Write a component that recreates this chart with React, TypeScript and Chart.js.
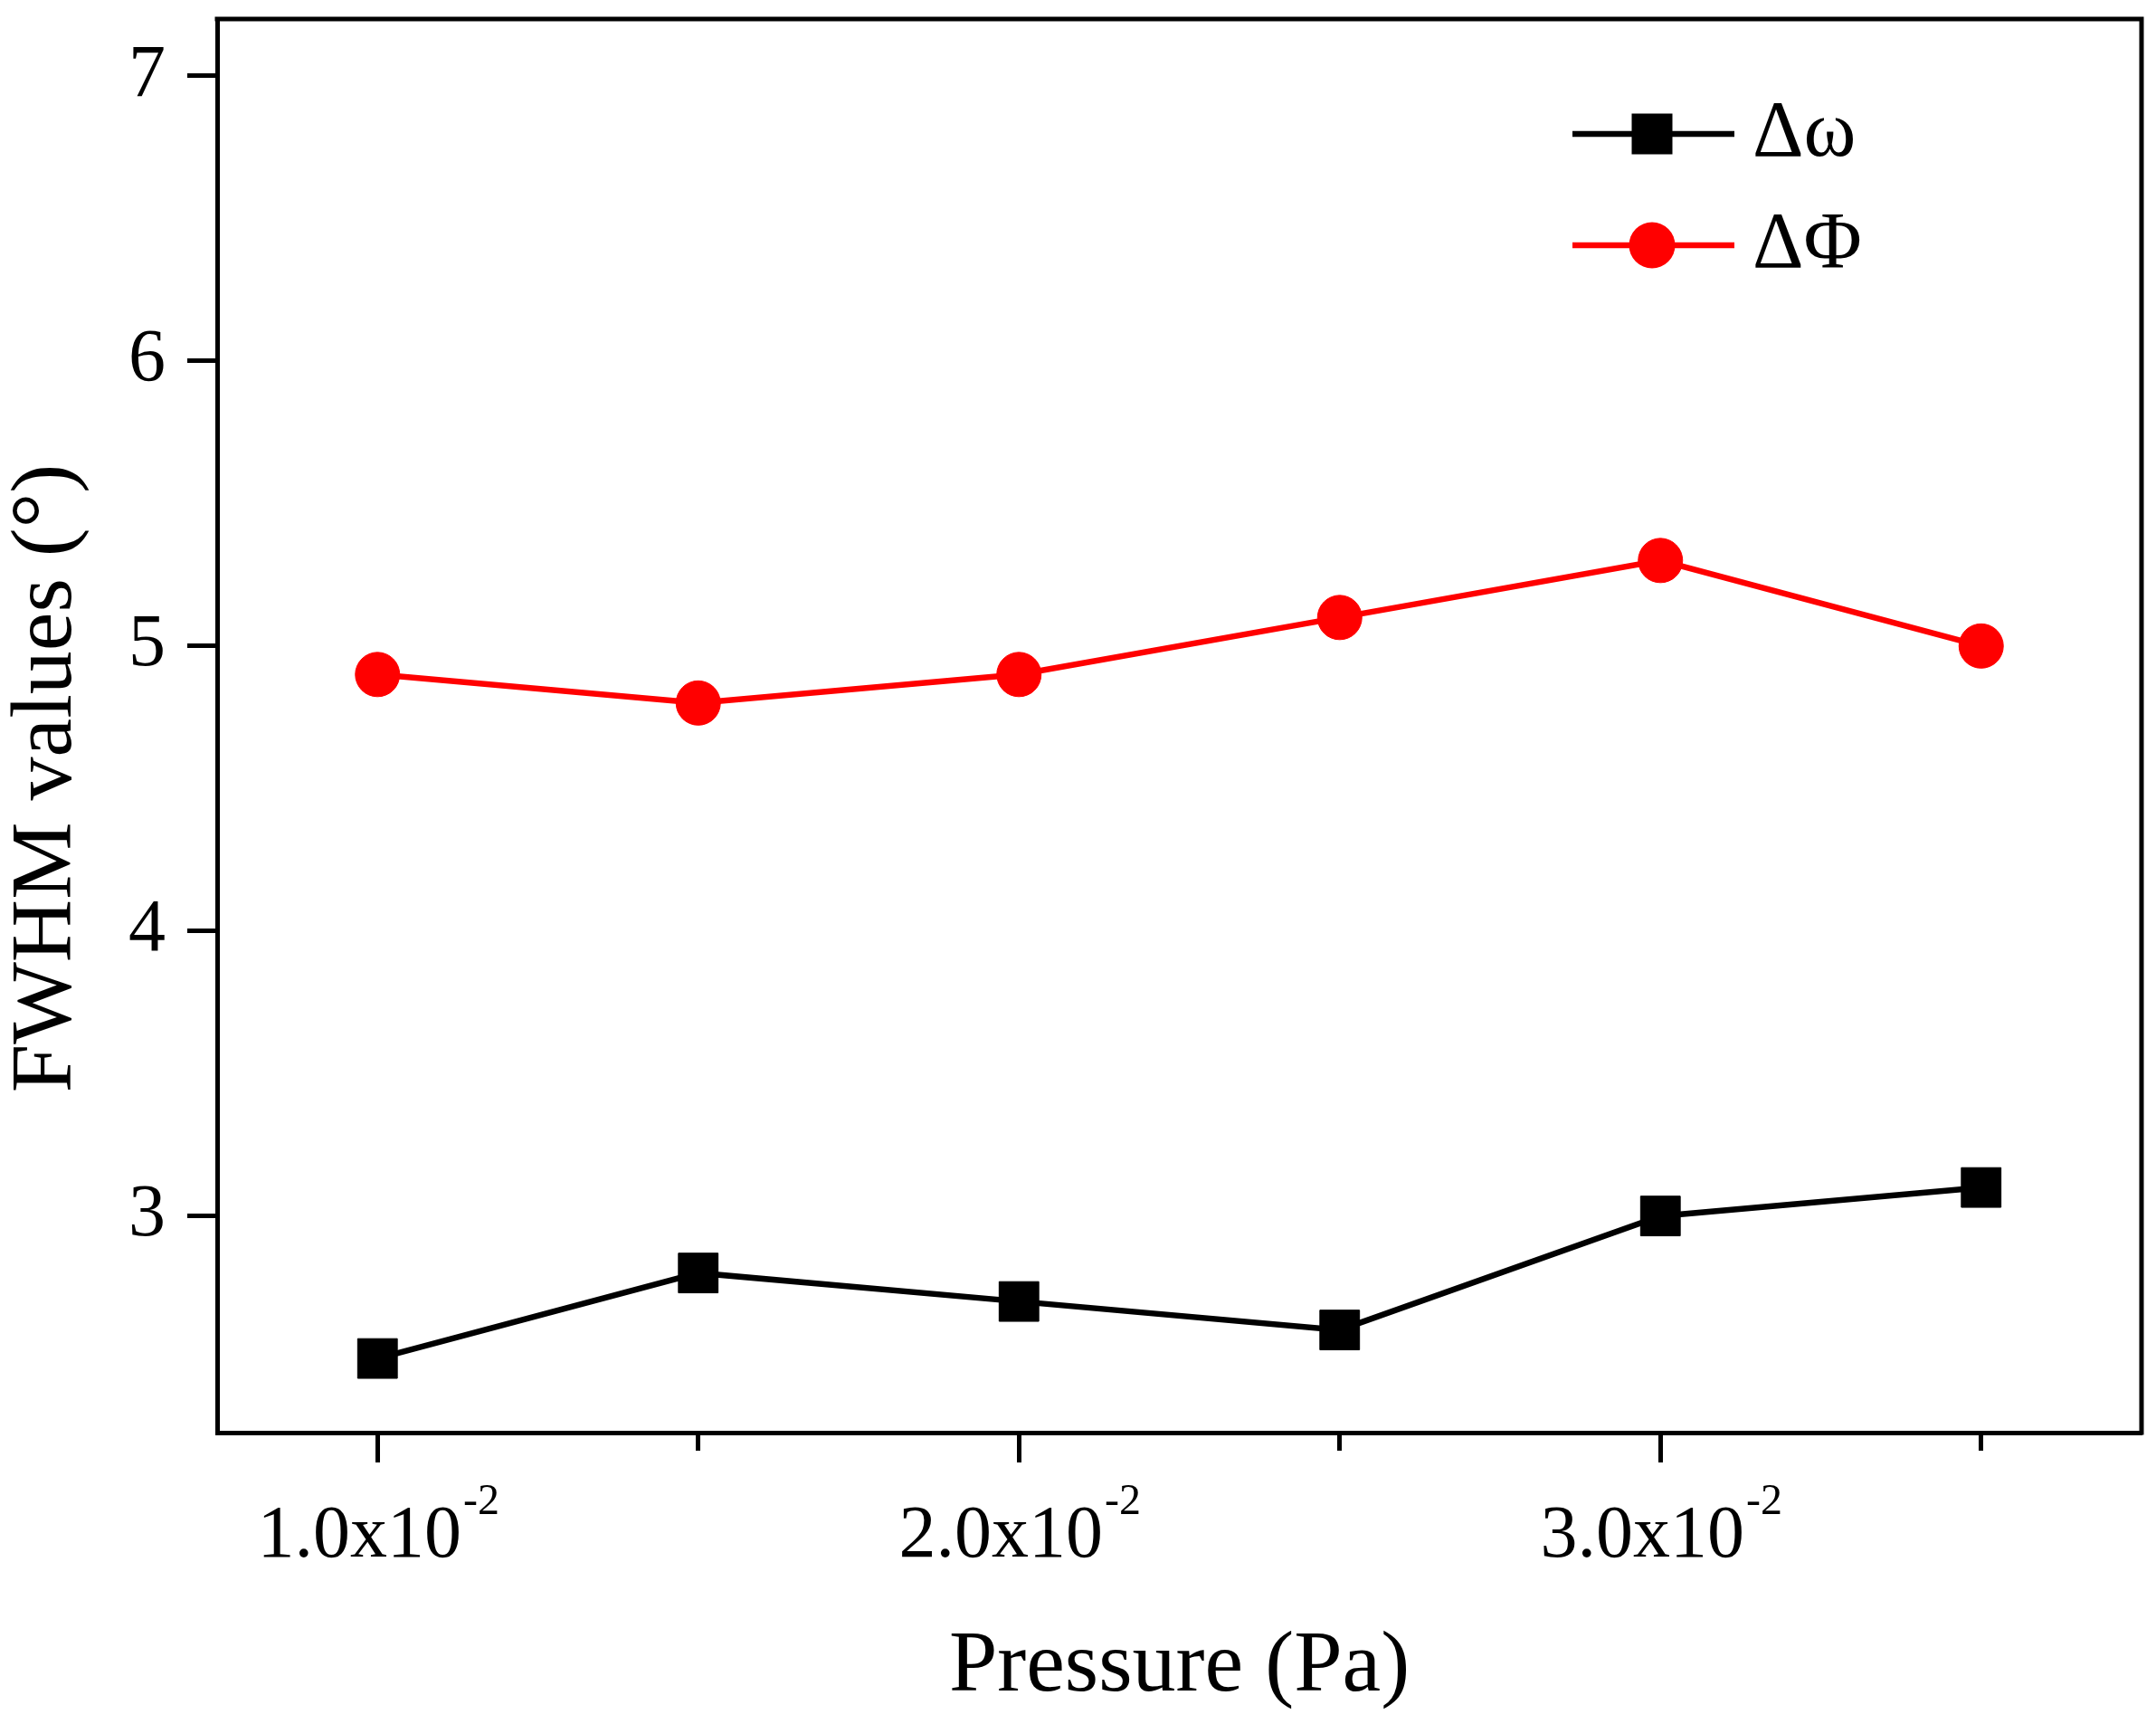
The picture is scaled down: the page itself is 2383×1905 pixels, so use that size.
import { useEffect, useRef } from 'react'
import { Chart, registerables } from 'chart.js'

Chart.register(...registerables)

const pressure = [0.010, 0.015, 0.020, 0.025, 0.030, 0.035]
const deltaOmega = [2.5, 2.8, 2.7, 2.6, 3.0, 3.1]
const deltaPhi = [4.9, 4.8, 4.9, 5.1, 5.3, 5.0]
const seriesLabels = ['Δω', 'ΔΦ']
const xTickValues = [0.010, 0.015, 0.020, 0.025, 0.030, 0.035]
const xLabelValues = [0.010, 0.020, 0.030]
const xLabelText = ['1.0x10', '2.0x10', '3.0x10']
const xLabelExp = '-2'
const yTickValues = [3, 4, 5, 6, 7]

const FONT = "'Liberation Serif', 'Times New Roman', serif"
const W = 2383
const H = 1905

const isMajor = (v: number) => xLabelValues.some(m => Math.abs(m - v) < 1e-9)

// frame, legend, y title and the superscript x labels
const decorPlugin = {
  id: 'decor',
  afterDraw(chart: any) {
    const { ctx, chartArea } = chart
    const xs = chart.scales.x
    ctx.save()

    ctx.strokeStyle = '#000'
    ctx.lineWidth = 5
    ctx.beginPath()
    ctx.moveTo(chartArea.left - 2.5, chartArea.top)
    ctx.lineTo(chartArea.right, chartArea.top)
    ctx.lineTo(chartArea.right, chartArea.bottom + 2.5)
    ctx.stroke()

    // x tick labels with exponent
    ctx.fillStyle = '#000'
    ctx.textBaseline = 'alphabetic'
    ctx.textAlign = 'left'
    xLabelValues.forEach((v, i) => {
      const px = xs.getPixelForValue(v)
      ctx.font = `82px ${FONT}`
      const wMain = ctx.measureText(xLabelText[i]).width
      ctx.font = `48px ${FONT}`
      const wExp = ctx.measureText(xLabelExp).width
      const x0 = px - (wMain + wExp) / 2
      ctx.font = `82px ${FONT}`
      ctx.fillText(xLabelText[i], x0, chartArea.bottom + 137)
      ctx.font = `48px ${FONT}`
      ctx.fillText(xLabelExp, x0 + wMain + 2, chartArea.bottom + 90)
    })

    // y title
    ctx.save()
    ctx.translate(53, 860)
    ctx.rotate(-Math.PI / 2)
    ctx.textAlign = 'center'
    ctx.textBaseline = 'middle'
    ctx.font = `96px ${FONT}`
    ctx.fillText('FWHM values (°)', 0, 0)
    ctx.restore()

    // legend
    const rows = [148, 271]
    chart.data.datasets.forEach((ds: any, i: number) => {
      const y = rows[i]
      ctx.strokeStyle = ds.borderColor
      ctx.lineWidth = 6.5
      ctx.beginPath()
      ctx.moveTo(1738, y)
      ctx.lineTo(1917, y)
      ctx.stroke()
      ctx.fillStyle = ds.pointBackgroundColor
      if (ds.pointStyle === 'rect') {
        ctx.fillRect(1826 - 22.5, y - 22.5, 45, 45)
      } else {
        ctx.beginPath()
        ctx.arc(1826, y, 25.5, 0, Math.PI * 2)
        ctx.fill()
      }
      ctx.fillStyle = '#000'
      ctx.font = `88px ${FONT}`
      ctx.textAlign = 'left'
      ctx.textBaseline = 'alphabetic'
      ctx.fillText(ds.label, 1937, y + 24)
    })

    ctx.restore()
  },
}

export default function App() {
  const canvasRef = useRef<HTMLCanvasElement>(null)
  const chartRef = useRef<Chart | null>(null)

  useEffect(() => {
    if (!canvasRef.current) return
    const ctx = canvasRef.current.getContext('2d')
    if (!ctx) return
    Chart.defaults.color = '#000'

    chartRef.current = new Chart(ctx, {
      type: 'line',
      data: {
        datasets: [
          {
            label: seriesLabels[0],
            data: pressure.map((p, i) => ({ x: p, y: deltaOmega[i] })),
            borderColor: '#000000',
            backgroundColor: '#000000',
            borderWidth: 6.5,
            pointStyle: 'rect',
            pointRadius: 31,
            pointBorderWidth: 1,
            pointBackgroundColor: '#000000',
            pointBorderColor: '#000000',
            tension: 0,
          },
          {
            label: seriesLabels[1],
            data: pressure.map((p, i) => ({ x: p, y: deltaPhi[i] })),
            borderColor: '#ff0000',
            backgroundColor: '#ff0000',
            borderWidth: 6.5,
            pointStyle: 'circle',
            pointRadius: 24.5,
            pointBorderWidth: 1,
            pointBackgroundColor: '#ff0000',
            pointBorderColor: '#ff0000',
            tension: 0,
          },
        ],
      },
      options: {
        responsive: false,
        devicePixelRatio: 1,
        animation: false,
        layout: { autoPadding: false, padding: { left: 0, right: 16, top: 21, bottom: 0 } },
        plugins: { legend: { display: false }, tooltip: { enabled: false } },
        scales: {
          x: {
            type: 'linear',
            min: 0.0075,
            max: 0.0375,
            afterBuildTicks: (s: any) => { s.ticks = xTickValues.map(v => ({ value: v })) },
            afterFit: (s: any) => {
              s.height = 322
              s.paddingLeft = 0
              s.paddingRight = 0
            },
            ticks: { display: false },
            grid: {
              drawOnChartArea: false,
              tickLength: 33,
              tickWidth: 5,
              tickColor: '#000',
              tickBorderDash: (c: any) => (c.tick && isMajor(c.tick.value) ? [] : [17, 60]),
            },
            border: { display: true, color: '#000', width: 5 },
            title: {
              display: true,
              text: 'Pressure (Pa)',
              color: '#000',
              font: { family: FONT, size: 96, lineHeight: 1 },
              padding: { top: 0, bottom: 14 },
            },
          },
          y: {
            type: 'linear',
            min: 2.24,
            max: 7.2,
            afterBuildTicks: (s: any) => { s.ticks = yTickValues.map(v => ({ value: v })) },
            afterFit: (s: any) => {
              s.width = 240
              s.paddingTop = 0
              s.paddingBottom = 0
            },
            ticks: {
              color: '#000',
              padding: 24,
              font: { family: FONT, size: 82 },
              callback: (v: any) => String(v),
            },
            grid: {
              drawOnChartArea: false,
              tickLength: 33,
              tickWidth: 5,
              tickColor: '#000',
            },
            border: { display: true, color: '#000', width: 5 },
          },
        },
      },
      plugins: [decorPlugin],
    })

    return () => {
      if (chartRef.current) chartRef.current.destroy()
    }
  }, [])

  return (
    <div style={{ position: 'absolute', left: 0, top: 0, width: W, height: H, background: '#fff' }}>
      <canvas ref={canvasRef} width={W} height={H} style={{ width: W, height: H }}></canvas>
    </div>
  )
}
